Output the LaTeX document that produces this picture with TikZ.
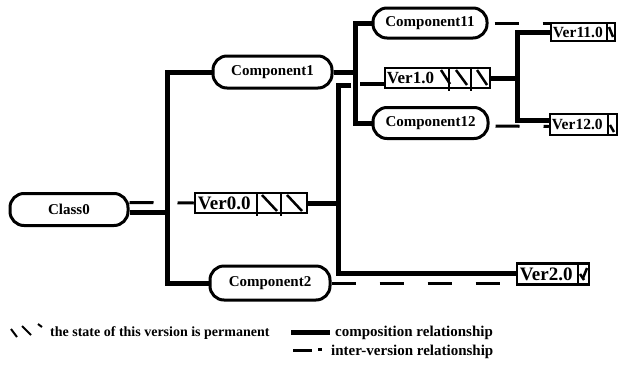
\documentclass[tikz,border=0pt]{standalone}
\usepackage{fontspec}
\setmainfont{Liberation Serif}
\begin{document}
\begin{tikzpicture}[x=1pt,y=-1pt,
  comp/.style={draw, line width=3pt, rounded corners=14pt, minimum height=32pt,
    inner sep=0pt, font=\bfseries\fontsize{15}{15}\selectfont},
  verbox/.style={draw, line width=2.5pt, inner sep=0pt, minimum height=20pt},
  vertext/.style={inner sep=0pt, anchor=west, font=\bfseries\fontsize{15.5}{15.5}\selectfont},
  vertextbig/.style={vertext, font=\bfseries\fontsize{19}{19}\selectfont},
  compo/.style={line width=5pt},
  interv/.style={line width=3pt, dash pattern=on 24pt off 24pt},
  cellline/.style={line width=2pt},
  hatch/.style={line width=2.5pt},
  legtext/.style={inner sep=0pt, anchor=west, font=\bfseries\fontsize{15}{15}\selectfont}]
\useasboundingbox (0,0) rectangle (623,370);

% class and component nodes
\node[comp, minimum width=118pt] (class0) at (69,209.5) {Class0};
\node[comp, minimum width=119pt] (comp1) at (272.5,72) {Component1};
\node[comp, minimum width=120pt, minimum height=34pt] (comp2) at (270,283) {Component2};
\node[comp, minimum width=114pt, minimum height=30pt] (comp11) at (430,23) {Component11};
\node[comp, minimum width=115pt, minimum height=31pt] (comp12) at (430.5,123) {Component12};

% version boxes
\node[verbox, minimum width=112pt] (ver0) at (251,203) {};
\node[vertextbig] (ver0t) at ([xshift=4pt,yshift=-0.5pt]ver0.west) {Ver0.0};
\node[verbox, minimum width=105pt] (ver1) at (437.5,78) {};
\node[vertext, font=\bfseries\fontsize{17}{17}\selectfont] (ver1t) at ([xshift=3pt]ver1.west) {Ver1.0};
\node[verbox, minimum width=64pt, minimum height=18pt] (ver11) at (583,32) {};
\node[vertext] (ver11t) at ([xshift=3pt]ver11.west) {Ver11.0};
\node[verbox, minimum width=67pt, minimum height=21pt] (ver12) at (583.5,124.5) {};
\node[vertext] (ver12t) at ([xshift=3pt]ver12.west) {Ver12.0};
\node[verbox, minimum width=72pt, minimum height=21pt] (ver2) at (553,274) {};
\node[vertextbig] (ver2t) at ([xshift=4pt,yshift=-0.5pt]ver2.west) {Ver2.0};

% permanent-state cells of Ver0.0
\draw[cellline] (257,193) -- (257,216);
\draw[cellline] (281,193) -- (281,216);
\draw[hatch] (262,195) -- (277,211);
\draw[hatch] (287,195) -- (302,211);

% permanent-state cells of Ver1.0
\draw[cellline] (449,68) -- (449,91);
\draw[cellline] (471,68) -- (471,91);
\draw[hatch] (441,70) -- (450,84);
\draw[hatch] (456,70) -- (467,85);
\draw[hatch] (477,70) -- (487,85);

% small trailing cells
\draw[cellline] (607,23) -- (607,41);
\draw[hatch] (609,27) -- (613,37);
\draw[cellline] (608,114) -- (608,135);
\draw[hatch] (610,125) -- (614,132);
\draw[cellline] (578,264) -- (578,285);
\draw[hatch] (580,274) -- (584,280);
\draw[hatch] (587,268) -- (583,278);

% composition: Class0 with Component1 and Component2
\coordinate (t0) at (167,212.5);
\coordinate (t1) at (167,72);
\coordinate (t2) at (167,283);
\draw[compo] ([yshift=-3pt]class0.east) -- (t0);
\draw[compo] (comp1.west) -- (t1) -- (t2) -- (comp2.west);

% composition: Component1 with Component11 and Component12
\coordinate (b0) at (355,72);
\coordinate (b1) at (355,23);
\coordinate (b2) at (355,123);
\draw[compo] (comp1.east) -- (b0);
\draw[compo] (comp11.west) -- (b1) -- (b2) -- (comp12.west);

% composition: Ver0.0 with Ver1.0 and Ver2.0
\coordinate (r0) at (338,203);
\coordinate (r1) at (338,85);
\coordinate (r2) at (338,273);
\coordinate (r3) at (351,85);
\coordinate (r4) at (360,84);
\draw[compo] (ver0.east) -- (r0);
\draw[compo] (r3) -- (r1) -- (r2) -- ([yshift=1pt]ver2.west);
\draw[line width=4pt] (r4) -- ([yshift=-6pt]ver1.west);

% composition: Ver1.0 with Ver11.0 and Ver12.0
\coordinate (s0) at (517,78);
\coordinate (s1) at (517,32);
\coordinate (s2) at (517,120);
\draw[compo] (ver1.east) -- (s0);
\draw[compo] (ver11.west) -- (s1) -- (s2) -- ([yshift=4.5pt]ver12.west);

% inter-version relationships
\draw[interv] ([yshift=7pt]class0.east) -- (ver0.west);
\draw[interv, dash phase=-6pt] (comp11.east) -- ([yshift=9pt]ver11.west);
\draw[interv, dash phase=-6pt] ([yshift=-3pt]comp12.east) -- ([yshift=-2pt]ver12.west);
\draw[interv] (comp2.east) -- ([yshift=-9pt]ver2.west);

% legend
\draw[line width=2pt] (11,329) -- (17,337);
\draw[line width=2pt] (22,326) -- (31,335);
\draw[line width=2pt] (38,324) -- (42,327);
\node[legtext, font=\bfseries\fontsize{14}{14}\selectfont] (l1) at (50,333) {the state of this version is permanent};
\coordinate (lc0) at (291,332);
\coordinate (lc1) at (330,332);
\draw[compo] (lc0) -- (lc1);
\node[legtext] (l2) at (335,333) {composition relationship};
\coordinate (li0) at (293,350);
\coordinate (li1) at (312,350);
\coordinate (li2) at (318,349);
\coordinate (li3) at (322,349);
\draw[line width=3pt] (li0) -- (li1);
\draw[line width=3pt] (li2) -- (li3);
\node[legtext] (l3) at (331,352) {inter-version relationship};
\end{tikzpicture}
\end{document}
